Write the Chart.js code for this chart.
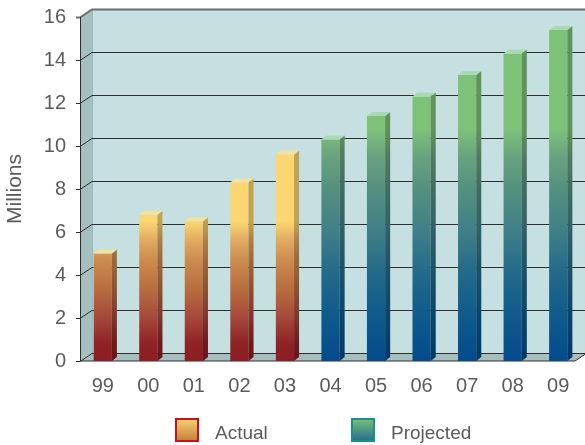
<!DOCTYPE html>
<html>
<head>
<meta charset="utf-8">
<script src="https://cdn.jsdelivr.net/npm/chart.js@4.4.0/dist/chart.umd.min.js"></script>
<style>
  html, body { margin: 0; padding: 0; background: #fff; }
  canvas { display: block; }
</style>
</head>
<body>
<canvas id="chart" width="585" height="445"></canvas>
<script>
// categories and series
const years = ['99', '00', '01', '02', '03', '04', '05', '06', '07', '08', '09'];
const actual = [5.0, 6.8, 6.5, 8.3, 9.6, null, null, null, null, null, null];
const projected = [null, null, null, null, null, 10.3, 11.4, 12.3, 13.3, 14.3, 15.4];
const yMax = 16;
const yStep = 2;

const TEXT = '#5b5b5b';
const FONT = 'Liberation Sans, Arial, sans-serif';

// wall depth and bar depth (pseudo 3d)
const WX = 12, WY = 8;
const BX = 5, BY = 4;

const actualStops = [[0, '#8c1d22'], [0.8, '#8f2226'], [2, '#a4483a'], [3.3, '#b86c40'], [4.7, '#cc8b4f'], [5.6, '#e0aa60'], [6.5, '#fbd673'], [16, '#fbd673']];
const projectedStops = [[0, '#044a8c'], [2, '#0e5a8c'], [4, '#22698a'], [6, '#3f7f87'], [8, '#54907f'], [9.5, '#6aa27f'], [10.8, '#7ec27a'], [16, '#7ec27a']];

function vertGradient(ctx, yScale, stops) {
  const g = ctx.createLinearGradient(0, yScale.getPixelForValue(0), 0, yScale.getPixelForValue(yMax));
  stops.forEach(([v, c]) => g.addColorStop(v / yMax, c));
  return g;
}

function barFill(stops) {
  return (c) => {
    const chart = c.chart;
    if (!chart.chartArea) return '#999';
    return vertGradient(chart.ctx, chart.scales.y, stops);
  };
}

// back wall, side wall, floor and gridlines
const walls = {
  id: 'walls',
  beforeDatasetsDraw(chart) {
    const { ctx, chartArea: a, scales: { y } } = chart;
    const W = chart.width;
    ctx.save();
    ctx.fillStyle = '#c6e0e1';
    ctx.fillRect(a.left + WX, a.top - WY, W - a.left - WX, a.bottom - a.top);

    ctx.fillStyle = '#a6bfbf';
    ctx.beginPath();
    ctx.moveTo(a.left, a.top);
    ctx.lineTo(a.left + WX, a.top - WY);
    ctx.lineTo(a.left + WX, a.bottom - WY);
    ctx.lineTo(a.left, a.bottom);
    ctx.closePath();
    ctx.fill();

    ctx.fillStyle = '#a7bebe';
    ctx.beginPath();
    ctx.moveTo(a.left, a.bottom);
    ctx.lineTo(a.left + WX, a.bottom - WY);
    ctx.lineTo(W, a.bottom - WY);
    ctx.lineTo(a.right - 6 + WX, a.bottom - WY);
    ctx.lineTo(a.right - 6, a.bottom);
    ctx.closePath();
    ctx.fill();

    ctx.strokeStyle = '#9db7c6';
    ctx.lineWidth = 1;
    ctx.beginPath();
    ctx.moveTo(a.left + WX + 0.5, a.top - WY);
    ctx.lineTo(a.left + WX + 0.5, a.bottom - WY);
    ctx.stroke();

    ctx.strokeStyle = '#2e2e2e';
    for (let v = 0; v <= yMax; v += yStep) {
      const py = Math.round(y.getPixelForValue(v)) + 0.5;
      ctx.beginPath();
      ctx.moveTo(a.left - 4, py);
      ctx.lineTo(a.left, py);
      ctx.lineTo(a.left + WX, py - WY);
      ctx.lineTo(W, py - WY);
      if (v === yMax) {
        ctx.strokeStyle = '#6e6e6e';
        ctx.lineWidth = 2;
      }
      ctx.stroke();
    }

    ctx.strokeStyle = '#2e2e2e';
    ctx.lineWidth = 1;
    ctx.beginPath();
    ctx.moveTo(a.left + 0.5, a.top);
    ctx.lineTo(a.left + 0.5, a.bottom);
    ctx.lineTo(a.right - 6, a.bottom);
    ctx.lineTo(a.right - 6 + WX, a.bottom - WY);
    ctx.stroke();
    ctx.restore();
  },
  afterDatasetsDraw(chart) {
    const { ctx } = chart;
    const tops = ['#f1e2a0', '#a9d9b3'];
    chart.data.datasets.forEach((ds, i) => {
      const meta = chart.getDatasetMeta(i);
      meta.data.forEach((bar, j) => {
        if (ds.data[j] == null) return;
        const { x, y, base, width } = bar.getProps(['x', 'y', 'base', 'width'], true);
        const r = x + width / 2, l = x - width / 2;
        ctx.save();
        // side face
        ctx.beginPath();
        ctx.moveTo(r, y);
        ctx.lineTo(r + BX, y - BY);
        ctx.lineTo(r + BX, base - BY);
        ctx.lineTo(r, base);
        ctx.closePath();
        ctx.fillStyle = vertGradient(ctx, chart.scales.y, i === 0 ? actualStops : projectedStops);
        ctx.fill();
        ctx.fillStyle = 'rgba(0,0,0,0.24)';
        ctx.fill();
        // top face
        ctx.beginPath();
        ctx.moveTo(l, y);
        ctx.lineTo(l + BX, y - BY);
        ctx.lineTo(r + BX, y - BY);
        ctx.lineTo(r, y);
        ctx.closePath();
        ctx.fillStyle = tops[i];
        ctx.fill();
        ctx.restore();
      });
    });
  },
  afterDraw(chart) {
    const { ctx } = chart;
    const items = [
      { label: 'Actual', x: 175, border: '#c4121f', stops: ['#fbd570', '#c07a3c'] },
      { label: 'Projected', x: 351, border: '#16918c', stops: ['#7fc27a', '#1f6a8e'] }
    ];
    ctx.save();
    items.forEach(it => {
      const bx = it.x, by = 418, s = 24;
      const g = ctx.createLinearGradient(0, by, 0, by + s);
      g.addColorStop(0, it.stops[0]);
      g.addColorStop(1, it.stops[1]);
      ctx.fillStyle = g;
      ctx.fillRect(bx, by, s, s);
      ctx.strokeStyle = it.border;
      ctx.lineWidth = 2;
      ctx.strokeRect(bx + 1, by + 1, s - 2, s - 2);
      ctx.fillStyle = TEXT;
      ctx.font = '19px ' + FONT;
      ctx.textBaseline = 'alphabetic';
      ctx.fillText(it.label, bx + s + 16, 439);
    });
    ctx.restore();
  }
};

new Chart(document.getElementById('chart'), {
  type: 'bar',
  data: {
    labels: years,
    datasets: [{
      label: 'Actual',
      data: actual,
      backgroundColor: barFill(actualStops),
      borderWidth: 0
    }, {
      label: 'Projected',
      data: projected,
      backgroundColor: barFill(projectedStops),
      borderWidth: 0
    }]
  },
  options: {
    responsive: false,
    animation: false,
    devicePixelRatio: 1,
    grouped: false,
    categoryPercentage: 1,
    barPercentage: 0.4,
    layout: { padding: { top: 17, right: 4, left: 0, bottom: 0 } },
    plugins: { legend: { display: false }, tooltip: { enabled: false } },
    scales: {
      x: {
        grid: { display: false, drawTicks: false },
        border: { display: false },
        ticks: { color: TEXT, font: { family: FONT, size: 20 }, padding: 13 },
        afterFit: (s) => { s.height = 84; s.paddingLeft = 0; s.paddingRight = 0; }
      },
      y: {
        min: 0,
        max: yMax,
        grid: { display: false, drawTicks: false },
        border: { display: false },
        ticks: { stepSize: yStep, color: TEXT, font: { family: FONT, size: 20 }, padding: 14 },
        title: { display: true, text: 'Millions', color: TEXT, font: { family: FONT, size: 21 }, padding: 3 },
        afterFit: (s) => { s.width = 80; s.paddingTop = 0; s.paddingBottom = 0; }
      }
    }
  },
  plugins: [walls]
});
</script>
</body>
</html>
